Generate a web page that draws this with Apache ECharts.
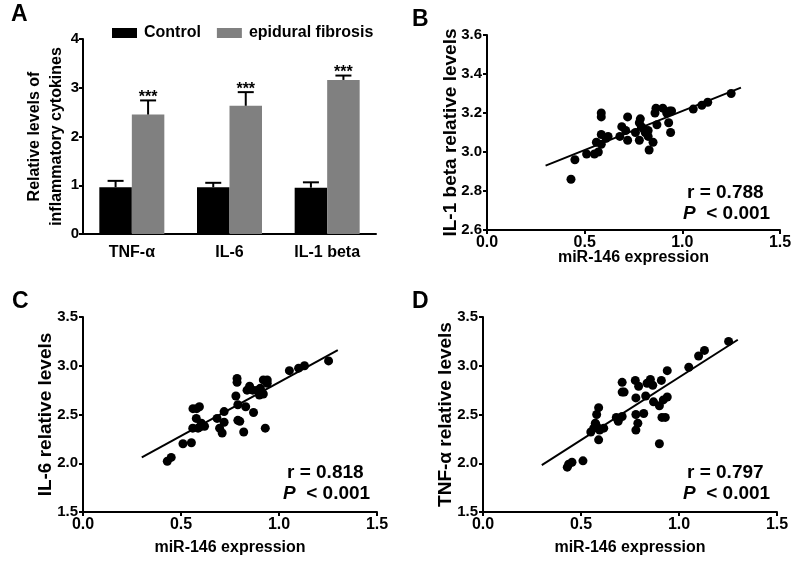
<!DOCTYPE html>
<html><head><meta charset="utf-8">
<script src="https://cdn.jsdelivr.net/npm/echarts@6/dist/echarts.min.js"></script>
<style>html,body{margin:0;padding:0;background:#fff}#c{width:800px;height:579px}</style>
</head><body><div id="c"></div>
<script>
// ---- Panel A data ----
const catsA = ['TNF-α', 'IL-6', 'IL-1 beta'];
const seriesNamesA = ['Control', 'epidural fibrosis'];
const controlMean = [0.96, 0.96, 0.95];
const controlErr = [0.13, 0.09, 0.11];
const fibrosisMean = [2.45, 2.63, 3.16];
const fibrosisErr = [0.29, 0.28, 0.09];
const sigA = ['***', '***', '***'];

// ---- Panel B data (miR-146 vs IL-1 beta) ----
const bPoints = [
  [0.43,2.86],[0.45,2.96],[0.51,2.99],[0.55,2.99],[0.57,3.00],[0.56,3.05],[0.585,3.04],
  [0.585,3.09],[0.585,3.18],[0.585,3.20],[0.61,3.07],[0.62,3.08],[0.68,3.08],[0.69,3.13],
  [0.71,3.11],[0.72,3.18],[0.72,3.06],[0.78,3.06],[0.785,3.17],[0.79,3.13],[0.81,3.10],
  [0.825,3.08],[0.825,3.11],[0.83,3.01],[0.85,3.05],[0.86,3.20],[0.865,3.225],[0.87,3.14],
  [0.90,3.225],[0.92,3.20],[0.935,3.21],[0.93,3.15],[0.94,3.10],[0.945,3.21],[1.056,3.22],
  [1.10,3.24],[1.13,3.255],[1.25,3.30],[0.76,3.10],[0.78,3.15],[0.80,3.12]
];
const bFit = [[0.3,2.93],[1.3,3.33]];
const bStats = ['r = 0.788', '< 0.001'];

// ---- Panel C data (miR-146 vs IL-6) ----
const cPoints = [
  [0.43,2.02],[0.45,2.06],[0.51,2.20],[0.553,2.21],[0.56,2.36],[0.587,2.36],[0.578,2.46],
  [0.561,2.56],[0.58,2.56],[0.594,2.58],[0.595,2.37],[0.604,2.41],[0.62,2.38],[0.684,2.46],
  [0.697,2.36],[0.71,2.31],[0.72,2.42],[0.72,2.53],[0.78,2.69],[0.786,2.83],[0.786,2.87],
  [0.79,2.44],[0.79,2.60],[0.80,2.43],[0.82,2.32],[0.83,2.58],[0.837,2.75],[0.85,2.79],
  [0.866,2.75],[0.87,2.52],[0.89,2.75],[0.90,2.70],[0.905,2.77],[0.92,2.855],[0.93,2.36],
  [0.94,2.82],[0.94,2.855],[1.053,2.95],[1.10,2.975],[1.13,3.00],[1.253,3.05],[0.92,2.71]
];
const cFit = [[0.3,2.06],[1.3,3.16]];
const cStats = ['r = 0.818', '< 0.001'];

// ---- Panel D data (miR-146 vs TNF-α) ----
const dPoints = [
  [0.43,1.96],[0.437,1.99],[0.454,2.01],[0.51,2.025],[0.55,2.32],[0.565,2.36],[0.575,2.40],
  [0.573,2.41],[0.58,2.50],[0.59,2.57],[0.59,2.24],[0.595,2.34],[0.616,2.36],[0.58,2.38],
  [0.68,2.47],[0.69,2.43],[0.71,2.48],[0.71,2.83],[0.71,2.73],[0.72,2.73],[0.777,2.85],
  [0.78,2.67],[0.78,2.50],[0.78,2.34],[0.79,2.41],[0.794,2.79],[0.82,2.51],[0.83,2.69],
  [0.837,2.82],[0.854,2.86],[0.866,2.80],[0.87,2.63],[0.90,2.59],[0.90,2.20],[0.91,2.85],
  [0.913,2.47],[0.93,2.47],[0.92,2.65],[0.94,2.68],[0.94,2.95],[1.05,2.985],[1.10,3.10],
  [1.13,3.157],[1.253,3.25]
];
const dFit = [[0.3,1.98],[1.3,3.267]];
const dStats = ['r = 0.797', '< 0.001'];

const xTitle = 'miR-146 expression';
const yTitles = ['Relative levels of\ninflammatory cytokines', 'IL-1 beta relative levels', 'IL-6 relative levels', 'TNF-α relative levels'];
const panelLetters = ['A', 'B', 'C', 'D'];

const FONT = 'Arial, "Liberation Sans", sans-serif';
const axisLine = {show: true, lineStyle: {color: '#000', width: 2}};
const axisTick = {show: true, inside: false, length: 4, lineStyle: {color: '#000', width: 2}};
const tickLabel = {color: '#000', fontFamily: FONT, fontWeight: 'bold', fontSize: 15};
const nameStyle = {color: '#000', fontFamily: FONT, fontWeight: 'bold', fontSize: 19};

function valueXAxis(gi, gap) {
  return {type: 'value', gridIndex: gi, min: 0, max: 1.5, interval: 0.5,
    axisLine, axisTick, splitLine: {show: false},
    axisLabel: Object.assign({margin: 5, formatter: v => v.toFixed(1)}, tickLabel, {fontSize: 16}),
    name: xTitle, nameLocation: 'middle', nameGap: gap, nameMoveOverlap: false,
    nameTextStyle: Object.assign({}, nameStyle, {fontSize: 16})};
}
function valueYAxis(gi, min, max, interval, name, gap) {
  return {type: 'value', gridIndex: gi, min, max, interval,
    axisLine, axisTick, splitLine: {show: false},
    axisLabel: Object.assign({margin: 5, formatter: v => v.toFixed(1)}, tickLabel),
    name, nameLocation: 'middle', nameGap: gap, nameMoveOverlap: false, nameTextStyle: nameStyle};
}

function errSeries(means, errs, offset, withStars) {
  return {
    type: 'custom', xAxisIndex: 0, yAxisIndex: 0, z: 5,
    data: means.map((m, i) => [i, m, errs[i]]),
    renderItem(params, api) {
      const i = api.value(0), m = api.value(1), e = api.value(2);
      const p0 = api.coord([i, m]);
      const p1 = api.coord([i, m + e]);
      const x = p0[0] + offset;
      const ch = [
        {type: 'line', shape: {x1: x, y1: p0[1], x2: x, y2: p1[1]}, style: {stroke: '#000', lineWidth: 2}},
        {type: 'line', shape: {x1: x - 8, y1: p1[1], x2: x + 8, y2: p1[1]}, style: {stroke: '#000', lineWidth: 2}}
      ];
      if (withStars) {
        ch.push({type: 'text', style: {text: sigA[i], x: x, y: p1[1] + 5, align: 'center', verticalAlign: 'bottom',
          font: 'bold 16px ' + FONT, fill: '#000'}});
      }
      return {type: 'group', children: ch};
    }
  };
}

function scatter(gi, pts) {
  return {type: 'scatter', xAxisIndex: gi, yAxisIndex: gi, data: pts, symbolSize: 9,
    itemStyle: {color: '#000', opacity: 1}, z: 3};
}
function fitLine(gi, pts) {
  return {type: 'line', xAxisIndex: gi, yAxisIndex: gi, data: pts, symbol: 'none',
    lineStyle: {color: '#000', width: 2}, z: 4, silent: true};
}
function statText(x, y, stats) {
  return [
    {type: 'text', left: x, top: y, style: {text: stats[0], font: 'bold 19px ' + FONT, fill: '#000'}},
    {type: 'text', left: x - 4, top: y + 21, style: {text: '{i|P}  ' + stats[1], font: 'bold 19px ' + FONT, fill: '#000',
      rich: {i: {fontStyle: 'italic', fontWeight: 'bold', fontSize: 19, fontFamily: FONT}}}}
  ];
}

const chart = echarts.init(document.getElementById('c'), null, {renderer: 'canvas'});
chart.setOption({
  backgroundColor: '#fff',
  animation: false,
  textStyle: {fontFamily: FONT},
  legend: {
    data: seriesNamesA, left: 107, top: 20, itemWidth: 25, itemHeight: 10, itemGap: 16,
    textStyle: {color: '#000', fontFamily: FONT, fontWeight: 'bold', fontSize: 16, padding: [0, 0, 0, 2]},
    icon: 'rect'
  },
  grid: [
    {left: 83, top: 39, width: 293, height: 195},
    {left: 487, top: 35, width: 293, height: 195},
    {left: 83, top: 317, width: 294, height: 195},
    {left: 483, top: 317, width: 294, height: 195}
  ],
  xAxis: [
    {type: 'category', gridIndex: 0, data: catsA, axisLine, axisTick: {show: false},
      axisLabel: Object.assign({}, tickLabel, {fontSize: 16, margin: 11})},
    valueXAxis(1, 20), valueXAxis(2, 28), valueXAxis(3, 28)
  ],
  yAxis: [
    {type: 'value', gridIndex: 0, min: 0, max: 4, interval: 1, axisLine, axisTick, splitLine: {show: false},
      axisLabel: Object.assign({margin: 4}, tickLabel),
      name: yTitles[0], nameLocation: 'middle', nameGap: 15, nameMoveOverlap: false,
      nameTextStyle: Object.assign({}, nameStyle, {fontSize: 16, lineHeight: 22})},
    valueYAxis(1, 2.6, 3.6, 0.2, yTitles[1], 27),
    valueYAxis(2, 1.5, 3.5, 0.5, yTitles[2], 28),
    valueYAxis(3, 1.5, 3.5, 0.5, yTitles[3], 28)
  ],
  series: [
    {name: seriesNamesA[0], type: 'bar', xAxisIndex: 0, yAxisIndex: 0, data: controlMean,
      barWidth: 32.5, barGap: '0%', itemStyle: {color: '#000'}},
    {name: seriesNamesA[1], type: 'bar', xAxisIndex: 0, yAxisIndex: 0, data: fibrosisMean,
      barWidth: 32.5, barGap: '0%', itemStyle: {color: '#808080'}},
    errSeries(controlMean, controlErr, -16.25, false),
    errSeries(fibrosisMean, fibrosisErr, 16.25, true),
    scatter(1, bPoints), fitLine(1, bFit),
    scatter(2, cPoints), fitLine(2, cFit),
    scatter(3, dPoints), fitLine(3, dFit)
  ],
  graphic: [
    {type: 'text', left: 11, top: 3, style: {text: panelLetters[0], font: 'bold 23px ' + FONT, fill: '#000'}},
    {type: 'text', left: 412, top: 8, style: {text: panelLetters[1], font: 'bold 23px ' + FONT, fill: '#000'}},
    {type: 'text', left: 12, top: 290, style: {text: panelLetters[2], font: 'bold 23px ' + FONT, fill: '#000'}},
    {type: 'text', left: 412, top: 290, style: {text: panelLetters[3], font: 'bold 23px ' + FONT, fill: '#000'}},
    ...statText(687, 183, bStats),
    ...statText(287, 463, cStats),
    ...statText(687, 463, dStats)
  ]
});
</script></body></html>
